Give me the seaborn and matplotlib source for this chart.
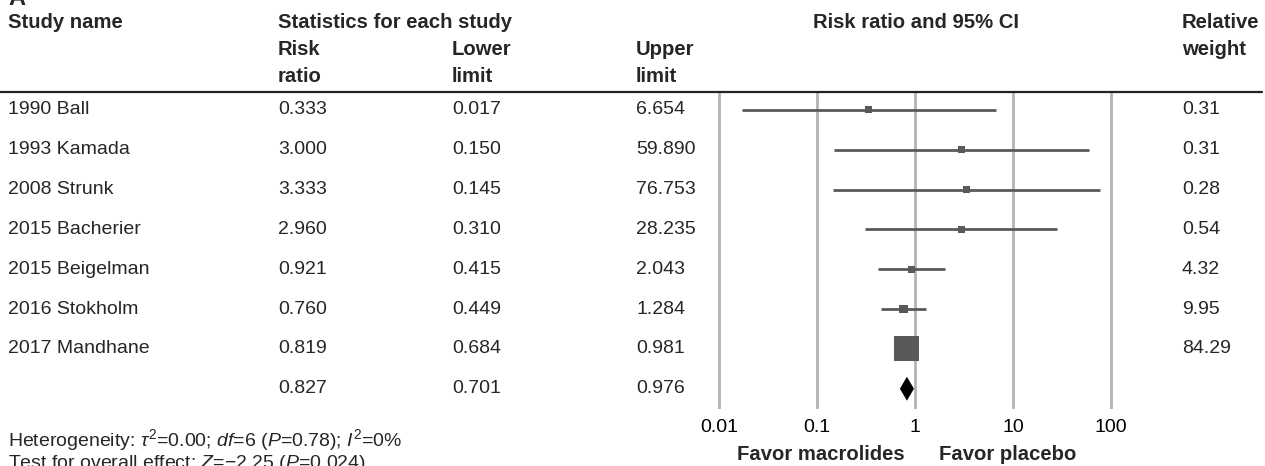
import numpy as np
import pandas as pd
import matplotlib
matplotlib.use("Agg")
import matplotlib.pyplot as plt
import matplotlib.transforms as mtransforms
from matplotlib.lines import Line2D
import seaborn as sns

# ---------------- data ----------------
studies = ["1990 Ball", "1993 Kamada", "2008 Strunk", "2015 Bacherier",
           "2015 Beigelman", "2016 Stokholm", "2017 Mandhane"]
risk_ratio = [0.333, 3.000, 3.333, 2.960, 0.921, 0.760, 0.819]
lower_limit = [0.017, 0.150, 0.145, 0.310, 0.415, 0.449, 0.684]
upper_limit = [6.654, 59.890, 76.753, 28.235, 2.043, 1.284, 0.981]
rel_weight = [0.31, 0.31, 0.28, 0.54, 4.32, 9.95, 84.29]
rr_labels = ["0.333", "3.000", "3.333", "2.960", "0.921", "0.760", "0.819"]
lo_labels = ["0.017", "0.150", "0.145", "0.310", "0.415", "0.449", "0.684"]
hi_labels = ["6.654", "59.890", "76.753", "28.235", "2.043", "1.284", "0.981"]
w_labels = ["0.31", "0.31", "0.28", "0.54", "4.32", "9.95", "84.29"]
pooled_rr, pooled_lo, pooled_hi = 0.827, 0.701, 0.976
pooled_labels = ["0.827", "0.701", "0.976"]
tick_values = [0.01, 0.1, 1, 10, 100]
tick_labels = ["0.01", "0.1", "1", "10", "100"]

# ---------------- style ----------------
sns.set_theme(style="white")
plt.rcParams["font.family"] = ["Liberation Sans", "DejaVu Sans"]
plt.rcParams["mathtext.fontset"] = "custom"
plt.rcParams["mathtext.rm"] = "Liberation Sans"
plt.rcParams["mathtext.it"] = "Liberation Sans:italic"
plt.rcParams["mathtext.bf"] = "Liberation Sans:bold"

W, H = 1265, 466
fig = plt.figure(figsize=(W / 100, H / 100), dpi=100)
FS = 14
FSB = 14.6

def fx(px):
    return px / W

def fy(py):
    return 1 - py / H

# forest axes
ax_left, ax_right, ax_top, ax_bot = 700, 1160, 92, 409
ax = fig.add_axes([fx(ax_left), fy(ax_bot), fx(ax_right - ax_left), (ax_bot - ax_top) / H])
ax.set_xscale("log")
ax.set_xlim(10 ** -2.194, 10 ** 2.5)
ax.set_ylim(7.51, -0.45)

df = pd.DataFrame({
    "study": studies, "rr": risk_ratio, "lo": lower_limit, "hi": upper_limit,
    "w": rel_weight,
})
df["row"] = np.arange(len(df))
side_px = np.maximum(7.0, 25.0 * np.sqrt(df["w"] / df["w"].max()))
df["area"] = (side_px * 0.72) ** 2

ax.set_xticks(tick_values)
ax.set_xticklabels(tick_labels, fontsize=FS)
ax.minorticks_off()
ax.set_yticks([])
ax.grid(axis="x", color="#b3b3b3", linewidth=2, zorder=0)
ax.grid(axis="y", visible=False)
ax.tick_params(axis="x", length=0, pad=7, colors="#000000")
for s in ax.spines.values():
    s.set_visible(False)
ax.set_axisbelow(True)

ax.hlines(df["row"], df["lo"], df["hi"], color="#595959", linewidth=2, zorder=2)
amin, amax = df["area"].min(), df["area"].max()
sns.scatterplot(data=df, x="rr", y="row", size="area", sizes=(amin, amax),
                size_norm=(amin, amax), marker="s", color="#595959",
                edgecolor="none", legend=False, ax=ax, zorder=3)
ax.set_xlabel("")
ax.set_ylabel("")

prow = len(df)
ax.fill([pooled_lo, pooled_rr, pooled_hi, pooled_rr],
        [prow, prow - 0.3, prow, prow + 0.3], color="black", zorder=3,
        linewidth=0)

# favor labels
trans_xa = mtransforms.blended_transform_factory(ax.transData, fig.transFigure)
ax.text(10 ** -0.11, fy(455), "Favor macrolides", transform=trans_xa, ha="right",
        va="center", fontsize=FSB, fontweight="bold")
ax.text(10 ** 0.245, fy(455), "Favor placebo", transform=trans_xa, ha="left",
        va="center", fontsize=FSB, fontweight="bold")

# ---------------- table text ----------------
trans_row = mtransforms.blended_transform_factory(fig.transFigure, ax.transData)
col_x = {"name": 8, "rr": 278, "lo": 452, "hi": 636, "w": 1182}
for i in range(len(df)):
    fig.text(fx(col_x["name"]), i, studies[i], transform=trans_row, va="center", fontsize=FS)
    fig.text(fx(col_x["rr"]), i, rr_labels[i], transform=trans_row, va="center", fontsize=FS)
    fig.text(fx(col_x["lo"]), i, lo_labels[i], transform=trans_row, va="center", fontsize=FS)
    fig.text(fx(col_x["hi"]), i, hi_labels[i], transform=trans_row, va="center", fontsize=FS)
    fig.text(fx(col_x["w"]), i, w_labels[i], transform=trans_row, va="center", fontsize=FS)
for key, lab in zip(["rr", "lo", "hi"], pooled_labels):
    fig.text(fx(col_x[key]), prow, lab, transform=trans_row, va="center", fontsize=FS)

# headers
fig.text(fx(8), fy(5), "A", fontsize=17, fontweight="bold", va="baseline")
fig.text(fx(8), fy(28), "Study name", fontsize=FSB, fontweight="bold", va="baseline")
fig.text(fx(278), fy(28), "Statistics for each study", fontsize=FSB, fontweight="bold", va="baseline")
fig.text(fx(278), fy(55), "Risk", fontsize=FSB, fontweight="bold", va="baseline")
fig.text(fx(278), fy(82), "ratio", fontsize=FSB, fontweight="bold", va="baseline")
fig.text(fx(452), fy(55), "Lower", fontsize=FSB, fontweight="bold", va="baseline")
fig.text(fx(452), fy(82), "limit", fontsize=FSB, fontweight="bold", va="baseline")
fig.text(fx(636), fy(55), "Upper", fontsize=FSB, fontweight="bold", va="baseline")
fig.text(fx(636), fy(82), "limit", fontsize=FSB, fontweight="bold", va="baseline")
fig.text(fx(916), fy(28), "Risk ratio and 95% CI", fontsize=FSB, fontweight="bold",
         va="baseline", ha="center")
fig.text(fx(1182), fy(28), "Relative", fontsize=FSB, fontweight="bold", va="baseline")
fig.text(fx(1182), fy(55), "weight", fontsize=FSB, fontweight="bold", va="baseline")

fig.add_artist(Line2D([0, fx(1262)], [fy(92), fy(92)], color="#222222", linewidth=1.6))

# footnotes
fig.text(fx(8), fy(440), r"Heterogeneity: $\tau^{2}$=0.00; $df$=6 ($P$=0.78); $I^{2}$=0%",
         fontsize=FS, va="center")
fig.text(fx(8), fy(463), r"Test for overall effect: $Z$=−2.25 ($P$=0.024)",
         fontsize=FS, va="center")

fig.savefig("out.png", dpi=100)
